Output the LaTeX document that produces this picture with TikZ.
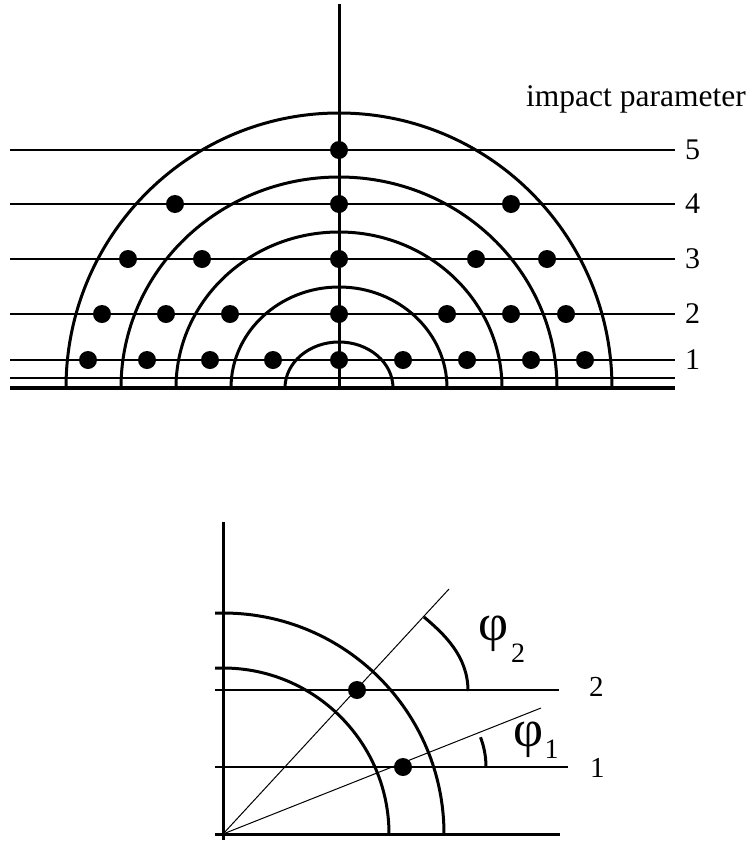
\documentclass[tikz,border=0pt]{standalone}
\usepackage{fontspec}
\setmainfont{Liberation Serif}
\begin{document}
\begin{tikzpicture}[x=1pt,y=-1pt,
  thinl/.style={line width=2pt},
  thickl/.style={line width=3pt},
  hair/.style={line width=1pt},
  dot/.style={circle,fill=black,inner sep=0pt,minimum size=18pt},
  toplab/.style={font=\fontsize{30}{36}\selectfont,inner sep=0pt,anchor=west},
  botlab/.style={font=\fontsize{29}{34}\selectfont,inner sep=0pt,anchor=west},
  philab/.style={font=\fontsize{52}{60}\selectfont,inner sep=0pt},
  sublab/.style={font=\fontsize{28}{33}\selectfont,inner sep=0pt}]
\useasboundingbox (0,0) rectangle (752,841);
% ---------- top diagram ----------
\coordinate (C) at (339,388);
\coordinate (Vtop) at (339,4);
\draw[thickl] (C) -- (Vtop);
\foreach \n/\y in {5/150,4/204,3/259,2/314,1/360}{
  \coordinate (L\n-a) at (10,\y);
  \coordinate (L\n-b) at (675,\y);
  \draw[thinl] (L\n-a) -- (L\n-b);
  \node[toplab] (num\n) at (685,\y) {\n};
}
\coordinate (T-a) at (10,378); \coordinate (T-b) at (675,378);
\draw[thinl] (T-a) -- (T-b);
\coordinate (B-a) at (10,388); \coordinate (B-b) at (675,388);
\draw[line width=3.5pt] (B-a) -- (B-b);
\foreach \k/\rx/\ry in {1/273/275,2/218/211,3/163/156,4/108/101,5/54/46}{
  \coordinate (A\k) at ({339-\rx},388);
  \draw[thickl] (A\k) arc[start angle=180,end angle=360,x radius=\rx,y radius=\ry];
}
\node[anchor=base west,inner sep=0pt,font=\fontsize{31.5}{38}\selectfont] (ip) at (526,106) {impact parameter};
% dots
\foreach \i/\x/\y in {a/339/150,
  b/175/204,c/339/204,d/511/204,
  e/128/259,f/202/259,g/339/259,h/476/259,i/547/259,
  j/102/314,k/166/314,l/230/314,m/339/314,n/447/314,o/511/314,p/566/314,
  q/88/360,r/147/360,s/210/360,t/273/360,u/339/360,v/403/360,w/467/360,x/531/360,y/585/360}{
  \node[dot] (d\i) at (\x,\y) {};
}
% ---------- bottom diagram ----------
\coordinate (O) at (223,834);
\coordinate (Vt) at (223,522);
\coordinate (Vb) at (223,840);
\coordinate (Ha) at (215,834);
\coordinate (Hb) at (560,834);
\draw[thickl] (Vt) -- (Vb);
\draw[thickl] (Ha) -- (Hb);
\coordinate (Oa) at (215,613);
\coordinate (Ob) at (223,613);
\draw[thickl] (Oa) -- (Ob) arc[start angle=270,end angle=360,radius=221];
\coordinate (Ia) at (215,668);
\coordinate (Ib) at (223,668);
\draw[thickl] (Ia) -- (Ib) arc[start angle=270,end angle=360,radius=166];
\coordinate (M2a) at (215,690); \coordinate (M2b) at (559,690);
\coordinate (M1a) at (215,767); \coordinate (M1b) at (568,767);
\draw[thinl] (M2a) -- (M2b);
\draw[thinl] (M1a) -- (M1b);
\coordinate (R2) at (449,589);
\coordinate (R1) at (541,708);
\draw[hair] (O) -- (R2);
\draw[hair] (O) -- (R1);
\node[dot] (P2) at (357,690) {};
\node[dot] (P1) at (403,767) {};
\coordinate (S2) at (424,617);
\coordinate (E2) at (468,691);
\draw[thickl] (S2) .. controls (444,634) and (468,656) .. (E2);
\draw[thickl] (P1.center) ++(339:83) arc[start angle=339,end angle=360,radius=83];
\node[botlab] (b2) at (589,687) {2};
\node[botlab] (b1) at (590,768) {1};
\node[philab] (phi2) at (493.5,633.5) {φ};
\node[sublab] (s2) at (518,653.5) {2};
\node[philab] (phi1) at (528.5,740) {φ};
\node[sublab] (s1) at (551.5,749) {1};
\end{tikzpicture}
\end{document}
